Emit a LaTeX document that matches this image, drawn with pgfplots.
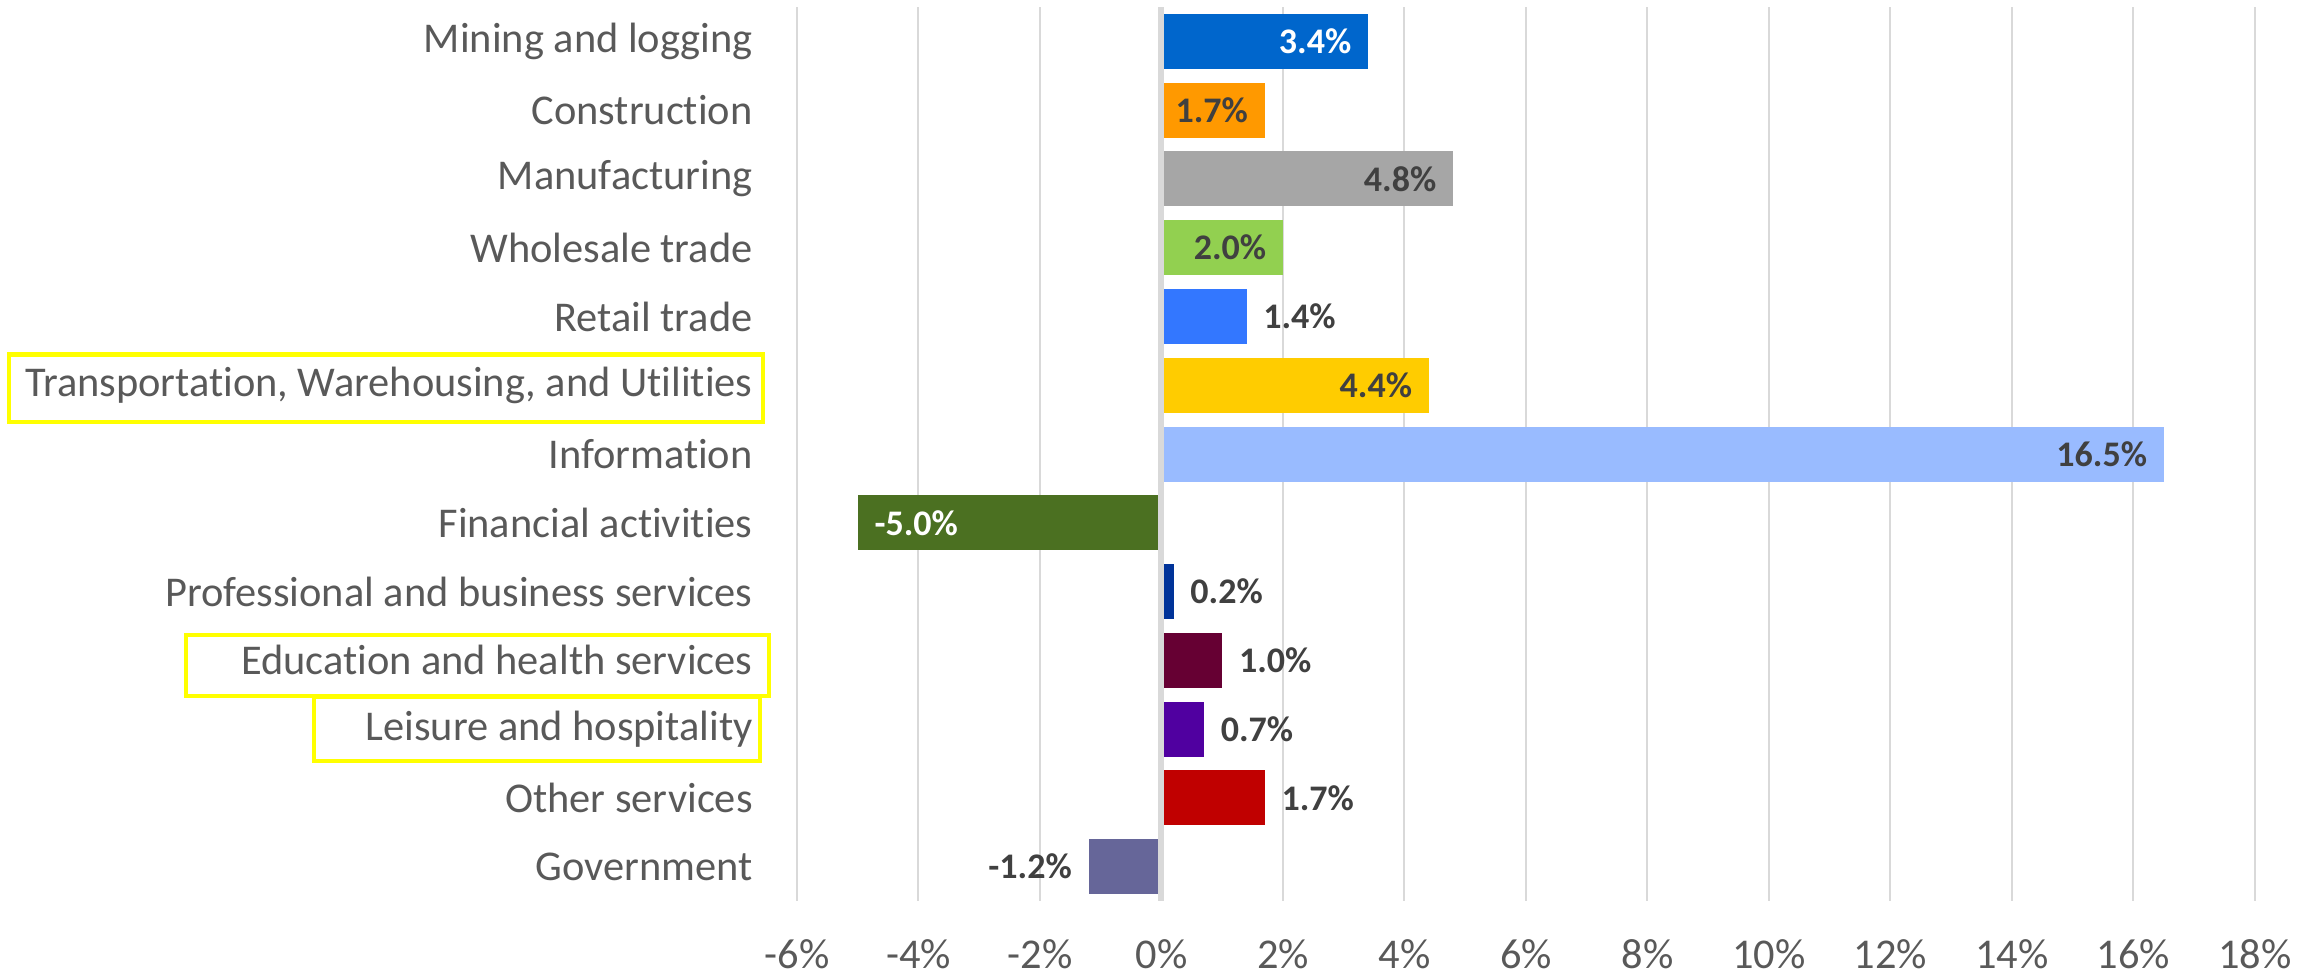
\documentclass[border=0pt]{standalone}
\usepackage{fontspec}
\setmainfont{Carlito}[RawFeature=-liga, RawFeature=-clig, RawFeature=-calt, RawFeature=-dlig]
\usepackage{pgfplots}
\pgfplotsset{compat=1.18}
\definecolor{gridgray}{HTML}{D9D9D9}
\definecolor{labelgray}{HTML}{595959}
\definecolor{datagray}{HTML}{404040}
\definecolor{cMin}{HTML}{0066CC}
\definecolor{cCon}{HTML}{FF9900}
\definecolor{cMan}{HTML}{A6A6A6}
\definecolor{cWho}{HTML}{92D050}
\definecolor{cRet}{HTML}{3377FF}
\definecolor{cTra}{HTML}{FFCC00}
\definecolor{cInf}{HTML}{99BBFF}
\definecolor{cFin}{HTML}{4B7021}
\definecolor{cPro}{HTML}{003399}
\definecolor{cEdu}{HTML}{660033}
\definecolor{cLei}{HTML}{5000A0}
\definecolor{cOth}{HTML}{C00000}
\definecolor{cGov}{HTML}{666699}
\definecolor{boxyellow}{HTML}{FFFF00}
\begin{document}
\begin{tikzpicture}
\path[use as bounding box] (0,0) rectangle (578.75pt,243.75pt);
\begin{axis}[
  at={(199.25pt,18.5pt)}, anchor=south west,
  scale only axis, width=364.5pt, height=223.5pt,
  xbar, bar width=0.8, bar shift=0pt,
  xmin=-6, xmax=18, ymin=-0.5, ymax=12.5, y dir=reverse,
  xtick={-6,-4,...,18},
  ytick={0,1,2,3,4,5,6,7,8,9,10,11,12},
  yticklabels={Mining and logging, Construction, Manufacturing, Wholesale trade, Retail trade, {Transportation, Warehousing, and Utilities}, Information, Financial activities, Professional and business services, Education and health services, Leisure and hospitality, Other services, Government},
  xticklabel={\pgfmathprintnumber{\tick}\%},
  /pgf/number format/assume math mode=true,
  axis line style={draw=none},
  major tick length=0pt,
  xmajorgrids, grid style={color=gridgray, line width=0.5pt},
  tick label style={color=labelgray},
  xticklabel style={font=\fontsize{10.6}{12}\selectfont, anchor=base, yshift=-16.75pt},
  yticklabel style={font=\fontsize{10.6}{12}\selectfont, anchor=east, inner sep=0pt, xshift=-10.9pt},
  point meta=x,
  nodes near coords={\pgfmathprintnumber[fixed,fixed zerofill,precision=1]{\pgfplotspointmeta}\%},
  nodes near coords style={font=\bfseries\fontsize{9}{10}\selectfont, color=datagray, inner xsep=4pt},
  every axis plot/.append style={draw=none, bar shift=0pt},
  clip=false,
]
\addplot[fill=cMin, nodes near coords style={anchor=east, color=white}] coordinates {(3.4,0)};
\addplot[fill=cCon, nodes near coords style={anchor=east}] coordinates {(1.7,1)};
\addplot[fill=cMan, nodes near coords style={anchor=east}] coordinates {(4.8,2)};
\addplot[fill=cWho, nodes near coords style={anchor=east}] coordinates {(2.0,3)};
\addplot[fill=cRet, nodes near coords style={anchor=west}] coordinates {(1.4,4)};
\addplot[fill=cTra, nodes near coords style={anchor=east}] coordinates {(4.4,5)};
\addplot[fill=cInf, nodes near coords style={anchor=east}] coordinates {(16.5,6)};
\addplot[fill=cFin, nodes near coords style={anchor=west, color=white}] coordinates {(-5.0,7)};
\addplot[fill=cPro, nodes near coords style={anchor=west}] coordinates {(0.2,8)};
\addplot[fill=cEdu, nodes near coords style={anchor=west}] coordinates {(1.0,9)};
\addplot[fill=cLei, nodes near coords style={anchor=west}] coordinates {(0.7,10)};
\addplot[fill=cOth, nodes near coords style={anchor=west}] coordinates {(1.7,11)};
\addplot[fill=cGov, nodes near coords style={anchor=east}] coordinates {(-1.2,12)};
\draw[gridgray, line width=1.5pt] (axis cs:0,-0.5) -- (axis cs:0,12.5);
\end{axis}
\draw[boxyellow, line width=1.1pt] (2.25pt,138.3pt) rectangle (190.75pt,155.1pt);
\draw[boxyellow, line width=1.1pt] (46.5pt,69.75pt) rectangle (192.25pt,85pt);
\draw[boxyellow, line width=1.1pt] (78.5pt,53.5pt) rectangle (190pt,69.5pt);
\end{tikzpicture}
\end{document}
